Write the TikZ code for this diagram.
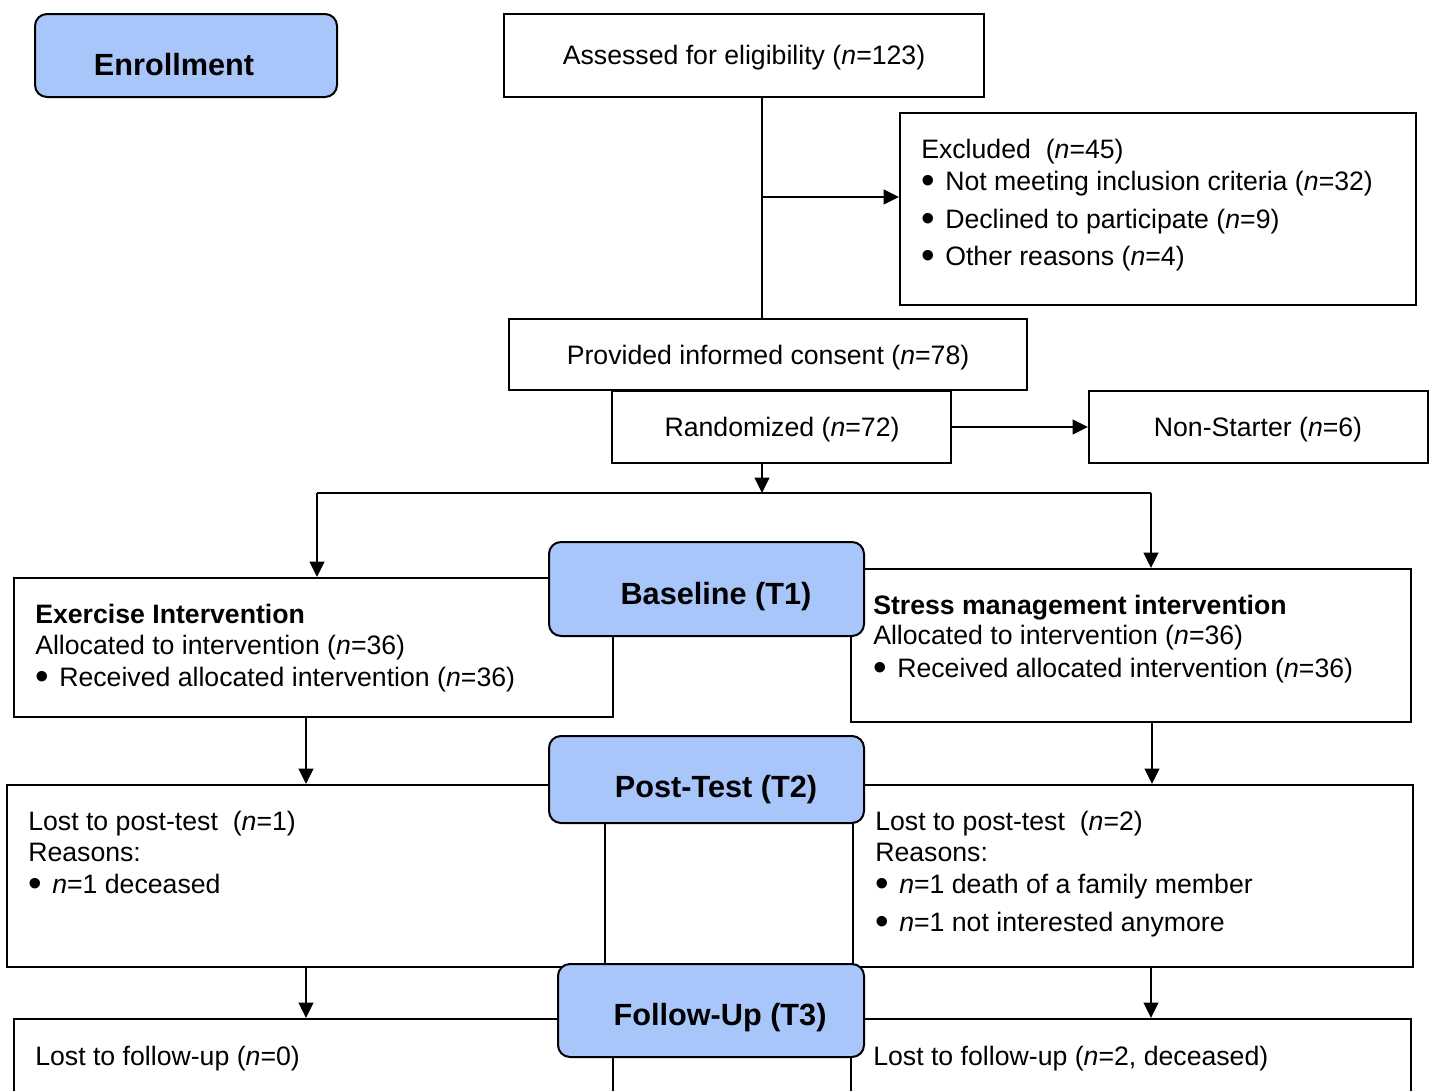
\documentclass[tikz,border=0pt]{standalone}
\usepackage{fontspec}
\setmainfont{Liberation Sans}
\usetikzlibrary{arrows.meta,fit}
\definecolor{hblue}{RGB}{169,198,250}
\newcommand\bul{\makebox[18pt][l]{\raisebox{-2.4pt}[0pt][0pt]{\scalebox{1.45}{\textbullet}}}}
\newcommand\nn{\textit{n}}
\begin{document}
\begin{tikzpicture}[x=0.75pt,y=-0.75pt,
  box/.style={draw, fill=white, line width=1.5pt, inner sep=0pt},
  head/.style={draw, fill=hblue, rounded corners=9pt, line width=1.5pt, inner sep=0pt},
  txt/.style={anchor=base west, inner sep=0pt, font=\fontsize{20}{24}\selectfont},
  ctxt/.style={anchor=base, inner sep=0pt, font=\fontsize{20}{24}\selectfont},
  htxt/.style={anchor=base, inner sep=0pt, font=\fontsize{23}{27}\selectfont\bfseries},
  conn/.style={line width=1.5pt},
  arr/.style={line width=1.5pt, -{Triangle[length=11.5pt,width=11pt]}}]
\useasboundingbox (0,0) rectangle (1432,1090);
\clip (0,0) rectangle (1432,1090);
\fill[white] (0,0) rectangle (1432,1090);

% boxes
\node[box, fit={(504,14) (984,97)}] (assess) {};
\node[box, fit={(900,113) (1416,305)}] (excl) {};
\node[box, fit={(509,319) (1027,390)}] (consent) {};
\node[box, fit={(612,391) (951,463)}] (rand) {};
\node[box, fit={(1089,391) (1428,463)}] (nonst) {};
\node[box, fit={(14,578) (613,717)}] (exer) {};
\node[box, fit={(851,569) (1411,722)}] (stress) {};
\node[box, fit={(7,785) (605,967)}] (lostL) {};
\node[box, fit={(853,785) (1413,967)}] (lostR) {};
\node[box, fit={(14,1019) (613,1120)}] (folL) {};
\node[box, fit={(851,1019) (1411,1120)}] (folR) {};

% coordinates
\coordinate (trunk) at (762,197);
\coordinate (split) at (762,493);
\coordinate (splitL) at (317,493);
\coordinate (splitR) at (1151,493);

% connectors
\draw[conn] (assess.south -| trunk) -- (consent.north -| trunk);
\draw[arr] (trunk) -- (trunk -| excl.west);
\draw[arr] (rand.east) -- (nonst.west);
\draw[arr] (rand.south -| split) -- (split);
\draw[conn] (splitL) -- (splitR);
\draw[arr] (splitL) -- (exer.north -| splitL);
\draw[arr] (splitR) -- (stress.north -| splitR);
\draw[arr] (exer.south -| 306,0) -- (lostL.north -| 306,0);
\draw[arr] (stress.south -| 1152,0) -- (lostR.north -| 1152,0);
\draw[arr] (lostL.south -| 306,0) -- (folL.north -| 306,0);
\draw[arr] (lostR.south -| 1151,0) -- (folR.north -| 1151,0);

% heading boxes
\node[head, fit={(35,14) (337,97)}] (enrol) {};
\node[head, fit={(549,542) (864,636)}] (base) {};
\node[head, fit={(549,736) (864,823)}] (post) {};
\node[head, fit={(558,964) (864,1057)}] (follow) {};

% heading texts
\node[htxt] (enrolT) at (174,75) {Enrollment};
\node[htxt] (baseT) at (716,604) {Baseline (T1)};
\node[htxt] (postT) at (716,797) {Post-Test (T2)};
\node[htxt] (followT) at (720,1025) {Follow-Up (T3)};

% texts
\node[ctxt] (assessT) at (744,64) {Assessed for eligibility (\nn=123)};
\node[txt] (exclT1) at (921,158) {Excluded\ \ (\nn=45)};
\node[txt] (exclT2) at (921,190) {\bul Not meeting inclusion criteria (\nn=32)};
\node[txt] (exclT3) at (921,228) {\bul Declined to participate (\nn=9)};
\node[txt] (exclT4) at (921,265) {\bul Other reasons (\nn=4)};
\node[ctxt] (consentT) at (768,364) {Provided informed consent (\nn=78)};
\node[ctxt] (randT) at (782,436) {Randomized (\nn=72)};
\node[ctxt] (nonstT) at (1258,436) {Non-Starter (\nn=6)};

\node[txt] (exerT1) at (35,623) {\textbf{Exercise Intervention}};
\node[txt] (exerT2) at (35,654) {Allocated to intervention (\nn=36)};
\node[txt] (exerT3) at (35,686) {\bul Received allocated intervention (\nn=36)};

\node[txt] (stressT1) at (873,614) {\textbf{Stress management intervention}};
\node[txt] (stressT2) at (873,644) {Allocated to intervention (\nn=36)};
\node[txt] (stressT3) at (873,677) {\bul Received allocated intervention (\nn=36)};

\node[txt] (lostLT1) at (28,830) {Lost to post-test\ \ (\nn=1)};
\node[txt] (lostLT2) at (28,861) {Reasons:};
\node[txt] (lostLT3) at (28,893) {\bul \nn=1 deceased};

\node[txt] (lostRT1) at (875,830) {Lost to post-test\ \ (\nn=2)};
\node[txt] (lostRT2) at (875,861) {Reasons:};
\node[txt] (lostRT3) at (875,893) {\bul \nn=1 death of a family member};
\node[txt] (lostRT4) at (875,931) {\bul \nn=1 not interested anymore};

\node[txt] (folLT) at (35,1065) {Lost to follow-up (\nn=0)};
\node[txt] (folRT) at (873,1065) {Lost to follow-up (\nn=2, deceased)};
\end{tikzpicture}
\end{document}
